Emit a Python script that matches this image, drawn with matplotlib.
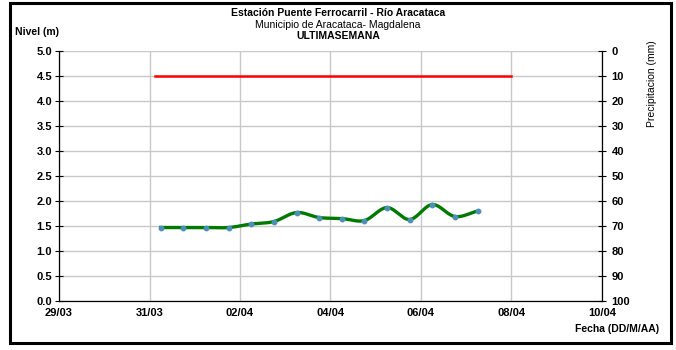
import numpy as np
import pandas as pd
import matplotlib
matplotlib.use("Agg")
import matplotlib.pyplot as plt
import matplotlib.dates as mdates
from matplotlib.patches import Rectangle

# Datos (nivel del rio, cada 12 horas)
fechas = ["2019-03-31 06:00", "2019-03-31 18:00", "2019-04-01 06:00", "2019-04-01 18:00",
          "2019-04-02 06:00", "2019-04-02 18:00", "2019-04-03 06:00", "2019-04-03 18:00",
          "2019-04-04 06:00", "2019-04-04 18:00", "2019-04-05 06:00", "2019-04-05 18:00",
          "2019-04-06 06:00", "2019-04-06 18:00", "2019-04-07 06:00"]
nivel = [1.47, 1.47, 1.47, 1.47, 1.54, 1.59, 1.77, 1.67, 1.65, 1.61, 1.87, 1.63, 1.93, 1.69, 1.80]

# Umbral (linea roja)
umbral_fechas = ["2019-03-31 03:00", "2019-04-08 00:00"]
umbral_nivel = [4.5, 4.5]

xticks = ["2019-03-29", "2019-03-31", "2019-04-02", "2019-04-04",
          "2019-04-06", "2019-04-08", "2019-04-10"]
yticks_nivel = [0.0, 0.5, 1.0, 1.5, 2.0, 2.5, 3.0, 3.5, 4.0, 4.5, 5.0]
yticks_prec = [0, 10, 20, 30, 40, 50, 60, 70, 80, 90, 100]


def catmull_rom(x, y, n=20):
    # suavizado tipo Excel para la linea
    x = np.asarray(x, float)
    y = np.asarray(y, float)
    px = np.concatenate([[2 * x[0] - x[1]], x, [2 * x[-1] - x[-2]]])
    py = np.concatenate([[2 * y[0] - y[1]], y, [2 * y[-1] - y[-2]]])
    xs, ys = [], []
    t = np.linspace(0, 1, n)
    for i in range(1, len(px) - 2):
        for p, out in ((px, xs), (py, ys)):
            p0, p1, p2, p3 = p[i - 1], p[i], p[i + 1], p[i + 2]
            out.extend(0.5 * (2 * p1 + (-p0 + p2) * t
                              + (2 * p0 - 5 * p1 + 4 * p2 - p3) * t ** 2
                              + (-p0 + 3 * p1 - 3 * p2 + p3) * t ** 3))
    return np.array(xs), np.array(ys)


plt.rcParams["font.family"] = ["Liberation Sans", "DejaVu Sans"]

fig = plt.figure(figsize=(6.76, 3.5), dpi=100)
ax = fig.add_axes([0.0873, 0.14, 0.8032, 0.714])

x = mdates.date2num(pd.to_datetime(fechas))
xs, ys = catmull_rom(x, nivel)
ax.plot(xs, ys, color="#007a00", lw=2.4, zorder=3)
ax.plot(x, nivel, "o", color="#4a90b8", ms=3.2, zorder=4)
ax.plot(mdates.date2num(pd.to_datetime(umbral_fechas)), umbral_nivel,
        color="#ff0000", lw=1.8, zorder=3)

xt = mdates.date2num(pd.to_datetime(xticks))
ax.set_xlim(xt[0], xt[-1])
ax.set_ylim(0, 5)
ax.set_xticks(xt)
ax.set_xticklabels([pd.Timestamp(d).strftime("%d/%m") for d in xticks],
                   fontsize=8, fontweight="bold")
ax.set_yticks(yticks_nivel)
ax.set_yticklabels([f"{v:.1f}" for v in yticks_nivel], fontsize=8, fontweight="bold")
ax.grid(True, color="#c8c8c8", lw=1.0, zorder=0)
ax.tick_params(axis="y", direction="inout", length=6, width=0.8, pad=2)
ax.tick_params(axis="x", length=0, pad=5)
for s in ["top", "right"]:
    ax.spines[s].set_visible(False)
ax.spines["left"].set_linewidth(0.9)
ax.spines["bottom"].set_linewidth(0.9)

ax2 = ax.twinx()
ax2.set_ylim(100, 0)
ax2.set_yticks(yticks_prec)
ax2.set_yticklabels([str(v) for v in yticks_prec], fontsize=8, fontweight="bold")
ax2.tick_params(axis="y", direction="inout", length=6, width=0.8, pad=4)
for s in ["top", "left", "bottom"]:
    ax2.spines[s].set_visible(False)
ax2.spines["right"].set_linewidth(0.9)

fig.text(0.5, 0.962, "Estación Puente Ferrocarril - Río Aracataca", ha="center",
         va="center", fontsize=7.5, fontweight="bold")
fig.text(0.5, 0.93, "Municipio de Aracataca- Magdalena", ha="center",
         va="center", fontsize=7.5)
fig.text(0.5, 0.898, "ULTIMASEMANA", ha="center", va="center",
         fontsize=7.5, fontweight="bold")
fig.text(0.022, 0.908, "Nivel (m)", ha="left", va="center",
         fontsize=7.5, fontweight="bold")
fig.text(0.975, 0.06, "Fecha (DD/M/AA)", ha="right", va="center",
         fontsize=7.5, fontweight="bold")
fig.text(0.964, 0.76, "Precipitacion (mm)", ha="center", va="center",
         rotation=90, fontsize=7.5)

fig.patches.append(Rectangle((0.015, 0.02), 0.978, 0.972, transform=fig.transFigure,
                             fill=False, edgecolor="black", lw=2.2))

fig.savefig("out.png", dpi=100)
